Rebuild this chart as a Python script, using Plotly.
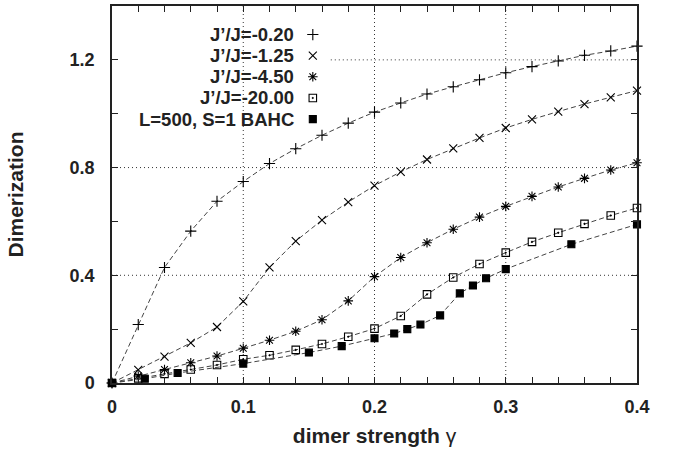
import plotly.graph_objects as go

# dimer strength grid shared by the four J'/J curves
gamma = [0.00, 0.02, 0.04, 0.06, 0.08, 0.10, 0.12, 0.14, 0.16, 0.18, 0.20,
         0.22, 0.24, 0.26, 0.28, 0.30, 0.32, 0.34, 0.36, 0.38, 0.40]

dim_020 = [0.000, 0.217, 0.429, 0.564, 0.675, 0.748, 0.815, 0.870, 0.920, 0.965, 1.006,
           1.040, 1.073, 1.100, 1.126, 1.152, 1.175, 1.196, 1.217, 1.233, 1.251]
dim_125 = [0.000, 0.049, 0.098, 0.149, 0.208, 0.303, 0.429, 0.527, 0.605, 0.672, 0.733,
           0.784, 0.830, 0.871, 0.910, 0.947, 0.979, 1.008, 1.036, 1.061, 1.086]
dim_450 = [0.000, 0.026, 0.050, 0.075, 0.100, 0.129, 0.159, 0.192, 0.235, 0.305, 0.395,
           0.466, 0.521, 0.571, 0.616, 0.656, 0.693, 0.728, 0.760, 0.791, 0.818]
dim_2000 = [0.000, 0.017, 0.034, 0.050, 0.067, 0.088, 0.103, 0.123, 0.145, 0.172, 0.202,
            0.249, 0.329, 0.392, 0.442, 0.484, 0.524, 0.558, 0.591, 0.622, 0.650]

# L=500, S=1 BAHC reference points
bahc_gamma = [0.000, 0.025, 0.050, 0.100, 0.150, 0.175, 0.200, 0.215, 0.225, 0.235,
              0.250, 0.265, 0.275, 0.285, 0.300, 0.350, 0.400]
bahc_dim = [0.000, 0.016, 0.037, 0.072, 0.113, 0.137, 0.166, 0.184, 0.200, 0.217,
            0.251, 0.333, 0.362, 0.389, 0.423, 0.515, 0.589]

labels = ["J’/J=-0.20", "J’/J=-1.25", "J’/J=-4.50", "J’/J=-20.00", "L=500, S=1 BAHC"]
symbols = ["cross-thin", "x-thin", "asterisk-open", "square-open-dot", "square"]
sizes = [8, 8, 8, 7.5, 7]

series = [(gamma, dim_020), (gamma, dim_125), (gamma, dim_450), (gamma, dim_2000),
          (bahc_gamma, bahc_dim)]

FONT = "Liberation Sans, Arial, sans-serif"
INK = "#222222"
X_RANGE = [0, 0.4]
Y_RANGE = [0, 1.4]

fig = go.Figure()

for (xs, ys), name, sym, sz in zip(series, labels, symbols, sizes):
    fig.add_trace(go.Scatter(
        x=xs, y=ys, name=name, mode="lines+markers",
        line=dict(color="#444444", width=1, dash="5px,3px"),
        marker=dict(symbol=sym, size=sz, color="black",
                    line=dict(color="black", width=1.1)),
        cliponaxis=False, showlegend=False,
    ))

# key: right-aligned labels with the symbol to their right
key_text_x = 0.1405
key_sym_x = 0.153
key_top = 1.294
key_step = 0.0785
for i, (name, sym, sz) in enumerate(zip(labels, symbols, sizes)):
    ky = key_top - i * key_step
    fig.add_annotation(x=key_text_x, y=ky, xref="x", yref="y", text=name,
                       showarrow=False, xanchor="right", yanchor="middle",
                       font=dict(family=FONT, size=18.5, color=INK, weight="bold"))
    fig.add_trace(go.Scatter(
        x=[key_sym_x], y=[ky], mode="markers", showlegend=False, hoverinfo="skip",
        marker=dict(symbol=sym, size=sz, color="black",
                    line=dict(color="black", width=1.1)),
        cliponaxis=False,
    ))

# dotted grid; the 1.2 line stops where the key sits
grid_style = dict(color="#333333", width=1, dash="1px,3px")
for gx in [0.1, 0.2, 0.3]:
    fig.add_shape(type="line", x0=gx, x1=gx, y0=Y_RANGE[0], y1=Y_RANGE[1],
                  xref="x", yref="y", line=grid_style, layer="below")
for gy, start in [(0.4, 0.0), (0.8, 0.0), (1.2, 0.1667)]:
    fig.add_shape(type="line", x0=start, x1=X_RANGE[1], y0=gy, y1=gy,
                  xref="x", yref="y", line=grid_style, layer="below")

axis_common = dict(
    showgrid=False, zeroline=False, showline=True, linecolor=INK, linewidth=1.5,
    mirror="allticks", ticks="inside", ticklen=6, tickwidth=1, tickcolor=INK,
    tickfont=dict(family=FONT, size=18, color=INK, weight="bold"),
)

fig.update_xaxes(
    range=X_RANGE, tickmode="array",
    tickvals=[0, 0.1, 0.2, 0.3, 0.4], ticktext=["0", "0.1", "0.2", "0.3", "0.4"],
    minor=dict(dtick=0.02, tick0=0, ticks="inside", ticklen=6, tickcolor=INK),
    title=dict(text="dimer strength <span style='font-weight:normal'>γ</span>",
               font=dict(family=FONT, size=21, color=INK, weight="bold"),
               standoff=12),
    ticklabelstandoff=7,
    **axis_common,
)
fig.update_yaxes(
    range=Y_RANGE, tickmode="array",
    tickvals=[0, 0.4, 0.8, 1.2], ticktext=["0", "0.4", "0.8", "1.2"],
    minor=dict(dtick=0.2, tick0=0, ticks="inside", ticklen=6, tickcolor=INK),
    title=dict(text="Dimerization",
               font=dict(family=FONT, size=21, color=INK, weight="bold"),
               standoff=40),
    ticklabelstandoff=12,
    **axis_common,
)

fig.update_layout(
    width=678, height=455,
    margin=dict(l=112, r=41, t=4, b=72),
    paper_bgcolor="white", plot_bgcolor="white",
    showlegend=False,
)

fig.write_html("out.html")
